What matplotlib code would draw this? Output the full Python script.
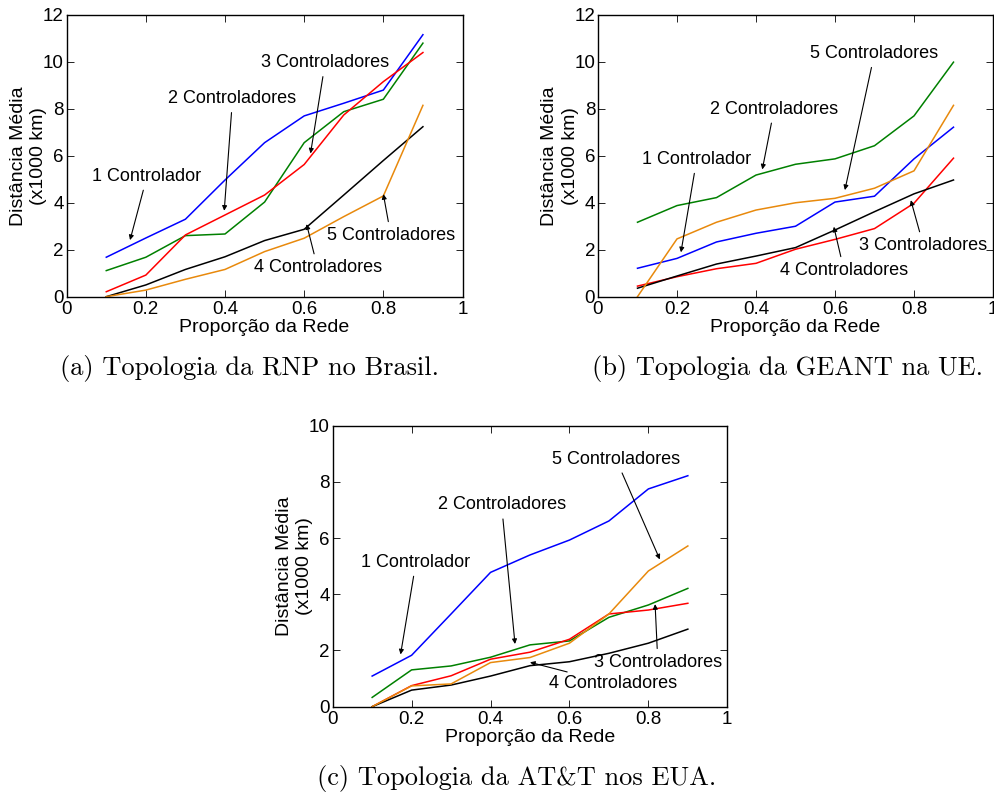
import numpy as np
import matplotlib
matplotlib.use('Agg')
import matplotlib.pyplot as plt

plt.rcParams['font.family'] = ['Liberation Sans', 'DejaVu Sans']

# Proportion of the network (x axis)
prop = [0.1, 0.2, 0.3, 0.4, 0.5, 0.6, 0.7, 0.8, 0.9]

# (a) RNP - Brasil
rnp_c1 = [1.68, 2.5, 3.3, 4.97, 6.56, 7.7, 8.24, 8.8, 11.16]
rnp_c2 = [1.11, 1.68, 2.6, 2.67, 4.03, 6.56, 7.88, 8.41, 10.8]
rnp_c3 = [0.21, 0.92, 2.63, 3.48, 4.33, 5.63, 7.74, 9.16, 10.4]
rnp_c4 = [0.0, 0.5, 1.16, 1.7, 2.39, 2.87, 4.33, 5.8, 7.24]
rnp_c5 = [0.0, 0.28, 0.74, 1.16, 1.92, 2.49, 3.41, 4.29, 8.15]

# (b) GEANT - UE
geant_c1 = [1.21, 1.63, 2.33, 2.7, 3.0, 4.03, 4.28, 5.87, 7.22]
geant_c2 = [3.17, 3.88, 4.22, 5.18, 5.64, 5.87, 6.43, 7.7, 9.99]
geant_c3 = [0.45, 0.85, 1.19, 1.42, 2.02, 2.44, 2.9, 3.98, 5.9]
geant_c4 = [0.36, 0.88, 1.39, 1.73, 2.09, 2.84, 3.62, 4.38, 4.97]
geant_c5 = [0.0, 2.46, 3.17, 3.69, 4.0, 4.19, 4.62, 5.36, 8.15]

# (c) AT&T - EUA
att_c1 = [1.09, 1.83, 3.3, 4.78, 5.4, 5.93, 6.61, 7.75, 8.22]
att_c2 = [0.33, 1.31, 1.45, 1.76, 2.2, 2.34, 3.18, 3.62, 4.21]
att_c3 = [0.0, 0.75, 1.1, 1.69, 1.94, 2.4, 3.3, 3.44, 3.68]
att_c4 = [0.0, 0.59, 0.77, 1.09, 1.46, 1.6, 1.9, 2.26, 2.76]
att_c5 = [0.0, 0.74, 0.81, 1.57, 1.75, 2.26, 3.3, 4.83, 5.72]

labels = ['1 Controlador', '2 Controladores', '3 Controladores',
          '4 Controladores', '5 Controladores']
colors = ['#0000ff', '#008000', '#ff0000', '#000000', '#e8890c']

# annotation: (text x, text y, arrow head x, arrow head y) per label
ann_a = [(0.203, 5.13, 0.16, 2.41), (0.419, 8.44, 0.398, 3.66),
         (0.653, 9.97, 0.616, 6.1), (0.634, 1.23, 0.606, 3.09),
         (0.819, 2.6, 0.8, 4.37)]
ann_b = [(0.25, 5.85, 0.21, 1.89), (0.446, 7.99, 0.416, 5.42),
         (0.824, 2.17, 0.792, 4.11), (0.623, 1.11, 0.597, 2.98),
         (0.70, 10.36, 0.625, 4.54)]
ann_c = [(0.211, 5.14, 0.172, 1.86), (0.428, 7.18, 0.462, 2.23),
         (0.824, 1.57, 0.817, 3.65), (0.711, 0.81, 0.5, 1.58),
         (0.718, 8.81, 0.829, 5.24)]


def draw_panel(ax, series, ann, ymax, caption, cap_xy):
    for y, c in zip(series, colors):
        ax.plot(prop, y, color=c, lw=1.1)
    for lab, (tx, ty, hx, hy) in zip(labels, ann):
        ax.annotate(lab, xy=(hx, hy), xytext=(tx, ty), ha='center', va='center',
                    fontsize=13,
                    arrowprops=dict(arrowstyle='-|>', color='k', lw=0.8,
                                    mutation_scale=7, shrinkA=2, shrinkB=0))
    ax.set_xlim(0, 1)
    ax.set_ylim(0, ymax)
    ax.set_xticks([0, 0.2, 0.4, 0.6, 0.8, 1])
    ax.set_xticklabels(['0', '0.2', '0.4', '0.6', '0.8', '1'])
    ax.set_yticks(np.arange(0, ymax + 1, 2))
    ax.tick_params(direction='in', top=True, right=True, length=5, width=0.6,
                   labelsize=13.5, pad=2)
    ax.tick_params(axis='x', pad=3)
    for s in ax.spines.values():
        s.set_linewidth(1.0)
    ax.set_xlabel('Proporção da Rede', fontsize=14, labelpad=1)
    ax.set_ylabel('Distância Média\n(x1000 km)', fontsize=14, labelpad=-3,
                  linespacing=1.25)
    fig.text(cap_xy[0], cap_xy[1], caption, ha='center', va='center',
             fontsize=19, family='cmr10')


fig = plt.figure(figsize=(9.94, 7.96), dpi=100)
ax_a = fig.add_axes([0.0671, 0.6273, 0.3982, 0.3539])
ax_b = fig.add_axes([0.6016, 0.6273, 0.3974, 0.3539])
ax_c = fig.add_axes([0.3347, 0.1122, 0.3970, 0.3530])

draw_panel(ax_a, [rnp_c1, rnp_c2, rnp_c3, rnp_c4, rnp_c5], ann_a, 12,
           '(a) Topologia da RNP no Brasil.', (250 / 994, 1 - 368 / 796))
draw_panel(ax_b, [geant_c1, geant_c2, geant_c3, geant_c4, geant_c5], ann_b, 12,
           '(b) Topologia da GEANT na UE.', (788 / 994, 1 - 368 / 796))
draw_panel(ax_c, [att_c1, att_c2, att_c3, att_c4, att_c5], ann_c, 10,
           '(c) Topologia da AT&T nos EUA.', (517 / 994, 1 - 778 / 796))

fig.savefig('out.png', dpi=100)
